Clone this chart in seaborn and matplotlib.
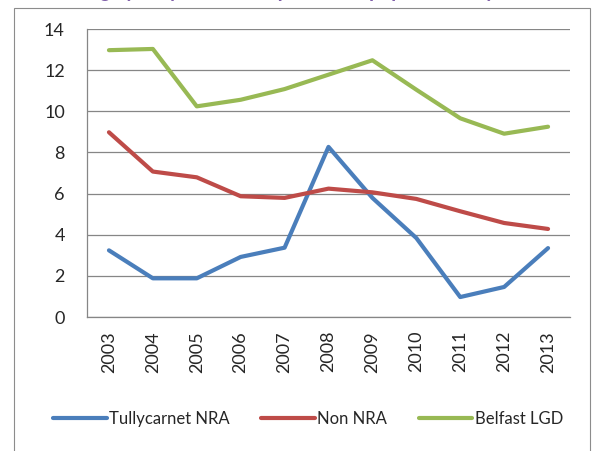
import pandas as pd
import numpy as np
import matplotlib.pyplot as plt
import matplotlib.patches as mpatches
import seaborn as sns

years = [2003, 2004, 2005, 2006, 2007, 2008, 2009, 2010, 2011, 2012, 2013]
tullycarnet = [3.24, 1.88, 1.88, 2.92, 3.37, 8.27, 5.79, 3.84, 0.97, 1.46, 3.35]
non_nra = [8.98, 7.07, 6.79, 5.87, 5.79, 6.24, 6.06, 5.74, 5.14, 4.57, 4.28]
belfast = [12.97, 13.03, 10.24, 10.56, 11.08, 11.78, 12.48, 11.05, 9.66, 8.91, 9.25]
series_names = ["Tullycarnet NRA", "Non NRA", "Belfast LGD"]
colors = ["#4A7EBB", "#BE4B48", "#98B954"]

df = pd.DataFrame({
    "year": years * 3,
    "value": tullycarnet + non_nra + belfast,
    "series": [series_names[0]] * 11 + [series_names[1]] * 11 + [series_names[2]] * 11,
})

sns.set_style("white")
plt.rcParams["font.family"] = ["Lato", "DejaVu Sans"]

fig = plt.figure(figsize=(5.95, 4.51), dpi=100)
ax = fig.add_axes([87 / 595, 1 - 317 / 451, (570 - 87) / 595, (317 - 29) / 451])

sns.lineplot(data=df, x="year", y="value", hue="series", palette=colors,
             hue_order=series_names, linewidth=3.0, ax=ax, legend=True,
             solid_capstyle="round", solid_joinstyle="round")

grid_col = "#868686"
ax.set_xlim(2002.5, 2013.5)
ax.set_ylim(0, 14)
ax.set_yticks(np.arange(0, 15, 2))
ax.yaxis.grid(True, color=grid_col, linewidth=0.9)
ax.set_axisbelow(True)
ax.set_xticks(years)
ax.set_xticklabels([str(y) for y in years], rotation=90)
ax.set_xticks(np.arange(2002.5, 2014, 1), minor=True)
ax.tick_params(axis="x", which="major", length=0, pad=10, labelsize=13)
ax.tick_params(axis="x", which="minor", length=5, width=0.9, color=grid_col, direction="out")
ax.tick_params(axis="y", length=5, width=0.9, color=grid_col, direction="out", pad=11, labelsize=13)
ax.set_xlabel("")
ax.set_ylabel("")
for s in ["top", "right"]:
    ax.spines[s].set_visible(False)
for s in ["left", "bottom"]:
    ax.spines[s].set_color(grid_col)
    ax.spines[s].set_linewidth(0.9)

handles, labels = ax.get_legend_handles_labels()
for h in handles:
    h.set_solid_capstyle("round")
ax.get_legend().remove()
fig.legend(handles, labels, loc="center", bbox_to_anchor=(308 / 595, 1 - 419 / 451),
           ncol=3, frameon=False, fontsize=12, handlelength=3.2, handletextpad=0.15,
           columnspacing=1.9)

# outer chart frame, cut off at the bottom of the image
frame = mpatches.Rectangle((14 / 595, -0.05), (590 - 14) / 595, 1.05 - 8 / 451,
                           transform=fig.transFigure, fill=False,
                           edgecolor="#8c8c8c", linewidth=0.8, clip_on=False)
fig.add_artist(frame)

# heading above the chart, only its descenders are visible
fig.text(50 / 595, 1 + 2.5 / 451, "Average yearly crime rate per 1,000 population, by area",
         color="#7F5FA8", fontsize=15, fontweight="bold", fontstyle="italic",
         va="baseline", ha="left")

fig.savefig("out.png", dpi=100)
